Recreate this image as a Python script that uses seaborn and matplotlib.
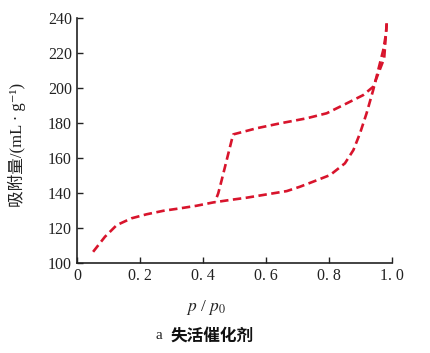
import matplotlib
matplotlib.use("Agg")
import matplotlib.pyplot as plt
import seaborn as sns
import pandas as pd

sns.set_style("ticks")
plt.rcParams['font.family'] = ['Liberation Serif', 'Noto Sans CJK SC', 'DejaVu Serif']
plt.rcParams['mathtext.fontset'] = 'stix'

ads_p = [0.05, 0.0875, 0.125, 0.172, 0.22, 0.273, 0.326, 0.379, 0.432, 0.485, 0.538,
         0.602, 0.666, 0.708, 0.75, 0.804, 0.851, 0.878, 0.899, 0.92, 0.941, 0.957,
         0.973, 0.982, 0.984]
ads_v = [106.2, 114.8, 121.5, 125.4, 127.7, 129.7, 131.1, 132.6, 134.5, 135.9, 137.2,
         139.1, 141.0, 143.5, 146.4, 150.2, 156.9, 164.5, 174.1, 185.6, 198.9, 210.4,
         221.8, 231.4, 237.1]
des_p = [0.984, 0.976, 0.941, 0.909, 0.857, 0.793, 0.729, 0.644, 0.57, 0.496, 0.491,
         0.475, 0.459, 0.448, 0.438]
des_v = [237.1, 217.1, 200.8, 196.0, 191.3, 185.6, 182.7, 179.8, 177.0, 173.5, 170.3,
         158.8, 147.3, 139.7, 134.9]

xticks = [0, 0.2, 0.4, 0.6, 0.8, 1.0]
xticklabels = ["0", "0. 2", "0. 4", "0. 6", "0. 8", "1. 0"]
yticks = [100, 120, 140, 160, 180, 200, 220, 240]

ads = pd.DataFrame({"p": ads_p, "v": ads_v})
des = pd.DataFrame({"p": des_p, "v": des_v})

fig = plt.figure(figsize=(4.3, 3.53), dpi=100)
ax = fig.add_axes([0.180, 0.256, 0.731, 0.692])
red = "#d8142c"
for d in (ads, des):
    sns.lineplot(data=d, x="p", y="v", sort=False, ax=ax, color=red,
                 linewidth=1.9, estimator=None)
for ln in ax.get_lines():
    ln.set_dashes([3.2, 1.7])

ax.set_xlim(0, 1.0)
ax.set_ylim(100, 240)
ax.set_xticks(xticks)
ax.set_xticklabels(xticklabels)
ax.set_yticks(yticks)
ax.tick_params(direction="in", length=4, width=1, labelsize=11.5, colors="#222222", pad=4)
ax.set_xlabel("")
ax.set_ylabel("")
sns.despine(ax=ax)
for s in ("left", "bottom"):
    ax.spines[s].set_linewidth(1.2)
    ax.spines[s].set_color("#222222")

fig.text(0.04, 0.59, "吸附量/(mL · g⁻¹)", rotation=90, ha="center", va="center",
         fontsize=12, color="#222222")
fig.text(0.478, 0.128, "$p$ / $p_0$", ha="center", va="center", fontsize=12.5,
         color="#222222")
fig.text(0.37, 0.05, "a", ha="center", va="center", fontsize=11, color="#222222")
fig.text(0.494, 0.05, "失活催化剂", ha="center", va="center", fontsize=12,
         fontweight="bold", color="#111111", family=["Noto Sans CJK SC"])

fig.savefig("out.png", dpi=100, facecolor="white")
